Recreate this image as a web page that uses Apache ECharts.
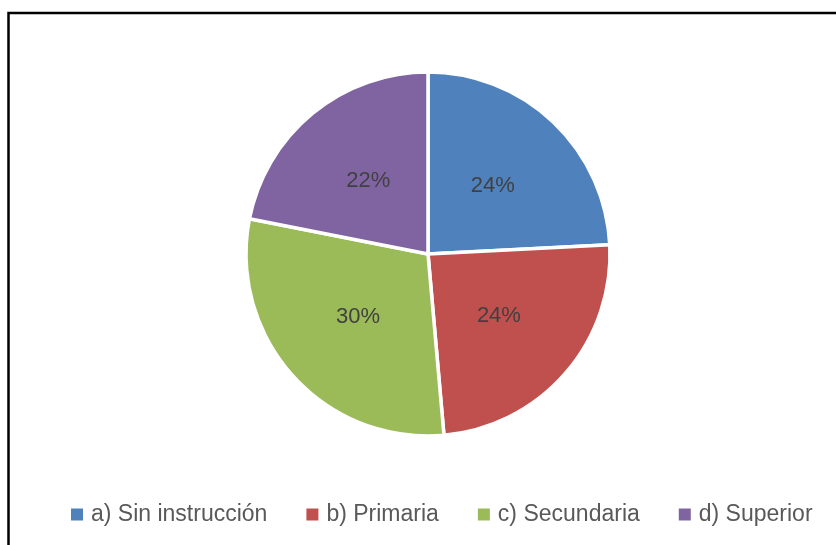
<!DOCTYPE html>
<html>
<head>
<meta charset="utf-8">
<script src="https://cdn.jsdelivr.net/npm/echarts@6/dist/echarts.min.js"></script>
<style>
 html,body{margin:0;padding:0;background:#fff;}
 #chart{width:836px;height:545px;}
</style>
</head>
<body>
<div id="chart"></div>
<script>
 var categorias = ['a) Sin instrucción', 'b) Primaria', 'c) Secundaria', 'd) Superior'];
 var valores = [24.2, 24.4, 29.5, 21.9];
 var colores = ['#4F81BD', '#C0504D', '#9BBB59', '#8064A2'];

 var pieData = [];
 for (var i = 0; i < categorias.length; i++) {
	 pieData.push({name: categorias[i], value: valores[i], itemStyle: {color: colores[i]}});
 }

 var myChart = echarts.init(document.getElementById('chart'));
 var option = {
	 animation: false,
	 backgroundColor: '#fff',
	 graphic: [{
		 type: 'rect',
		 shape: {x: 8.5, y: 13, width: 900, height: 600},
		 style: {fill: 'none', stroke: '#000', lineWidth: 2.5},
		 silent: true
	 }],
	 legend: {
		 data: categorias,
		 left: 64,
		 top: 498,
		 itemWidth: 14,
		 itemHeight: 14,
		 itemGap: 37,
		 icon: 'rect',
		 textStyle: {fontFamily: 'Liberation Sans', fontSize: 23, color: '#595959', padding: [0, 0, 0, 2]}
	 },
	 series: [{
		 type: 'pie',
		 center: [428, 254],
		 radius: [0, 182],
		 startAngle: 90,
		 clockwise: true,
		 percentPrecision: 0,
		 data: pieData,
		 itemStyle: {borderColor: '#fff', borderWidth: 3.5},
		 label: {
			 show: true,
			 position: 'inside',
			 formatter: '{d}%',
			 fontFamily: 'Liberation Sans',
			 fontSize: 22,
			 color: '#404040'
		 },
		 labelLine: {show: false},
		 emphasis: {disabled: true}
	 }]
 };
 myChart.setOption(option);
</script>
</body>
</html>
